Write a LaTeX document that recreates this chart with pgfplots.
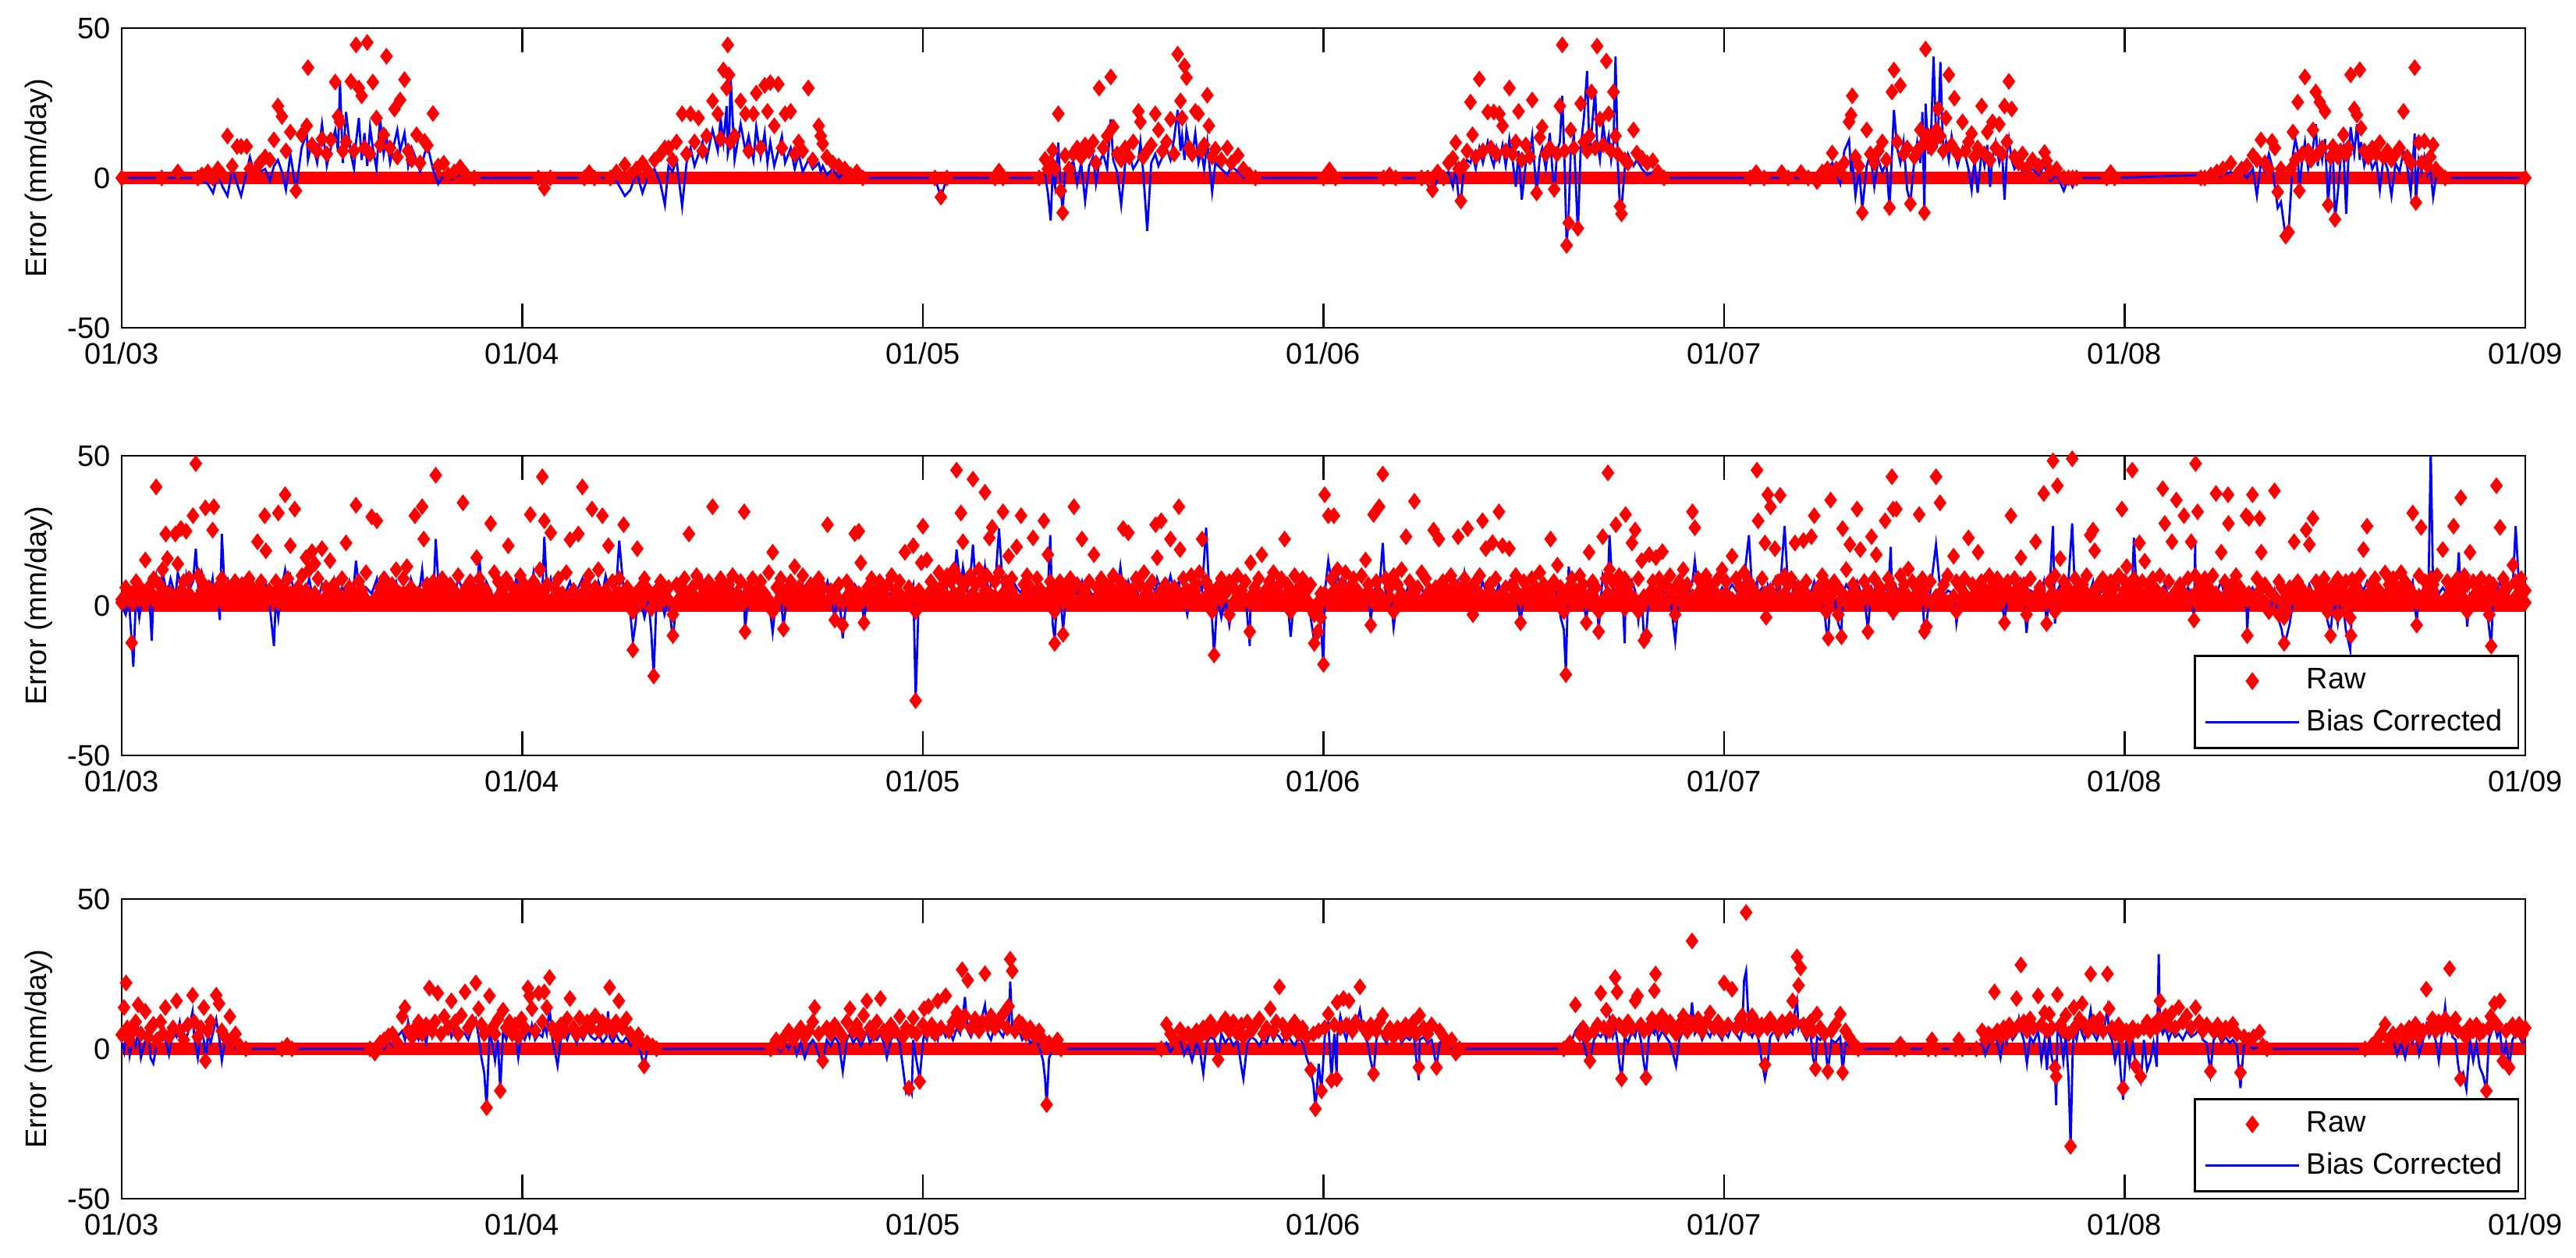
\documentclass[border=0pt]{standalone}
\usepackage{fontspec}
\setmainfont{Liberation Sans}
\usepackage{pgfplots}
\usepackage{pgfplotstable}
\pgfplotsset{compat=1.18}

% x = position in tick intervals (0 = 01/03 ... 6 = 01/09), r = raw error, b = bias corrected error
% s = further raw values in the dense low band of the middle panel
\pgfplotstableread{
x r b
0.000 0 0
0.100 0 0
0.140 2 0
0.190 0 0
0.200 1 -1
0.215 2 -2
0.228 0 -5
0.240 3 1
0.252 1 -3
0.264 14 -6
0.276 4 3
0.288 10.5 -2
0.298 10.5 -6
0.312 10.5 2
0.320 3 7
0.332 2 1
0.345 5 2
0.358 7 3
0.370 6 -1
0.380 12.7 4
0.390 24 6
0.400 20.5 2
0.410 9 -4
0.421 15.3 8
0.435 -4.3 -4
0.449 14.4 10
0.462 17.4 15
0.465 36.8 6
0.475 11 12
0.488 9 5
0.500 13 18
0.512 8 4
0.522 12.7 10
0.533 32 16
0.540 20.5 9
0.545 18.7 32
0.552 9 5
0.560 12 22
0.572 32.2 8
0.580 9 3
0.585 44.4 12
0.592 30 20
0.599 27.4 6
0.606 10 15
0.613 45.2 4
0.620 8 17
0.627 32 10
0.636 20 3
0.645 11 20
0.654 14.4 8
0.661 40.6 14
0.670 10 5
0.681 23 12
0.688 7 16
0.695 26 9
0.706 32.8 15
0.715 9 4
0.724 6 10
0.736 14.4 6
0.745 5 2
0.756 12.2 8
0.763 10.9 11
0.777 21.5 3
0.790 4 -2
0.804 4.9 1
0.815 1 -1
0.830 2 0
0.845 3.6 1
0.860 1 0
0.880 0 0
1.040 0 0
1.055 -3.4 -3
1.070 0 0
1.155 0 0
1.167 1.8 0
1.180 0 0
1.220 0 0
1.235 2 -1
1.256 4.4 -6
1.270 1 -4
1.285 3 2
1.300 5 -5
1.315 2 1
1.330 6 3
1.345 8 -2
1.356 10 -9
1.365 10 4
1.375 6 2
1.385 12 6
1.399 21.4 -9.5
1.410 8 5
1.420 21.4 10
1.430 12 4
1.440 20 8
1.450 9 12
1.460 14 6
1.475 25.7 16
1.488 21.4 9
1.495 13 20
1.502 36 12
1.510 30 24
1.513 44.4 8
1.516 34.4 10
1.520 12 34
1.530 14 6
1.545 25.7 18
1.557 21.4 9
1.565 9 14
1.577 21.4 6
1.584 28.3 17
1.595 10 7
1.605 30.9 15
1.612 22.2 5
1.619 31.8 12
1.629 17.4 4
1.639 31.3 9
1.648 10 14
1.656 21.4 5
1.670 22.2 10
1.680 8 3
1.690 12 8
1.700 9 2
1.714 30 6
1.725 6 3
1.740 17.4 5
1.745 14 2
1.750 11.4 4
1.760 7 1
1.775 5 3
1.790 4 0
1.805 3 2
1.820 1 0
1.835 2 0
1.850 0 0
2.030 0 0
2.045 -6.4 -6.4
2.060 0 0
2.180 0 0
2.190 2.3 1
2.200 0 0
2.290 0 0
2.305 6.2 1
2.312 3 -5
2.319 5 -14.2
2.324 9.2 2
2.330 3 -3
2.338 21.4 11.8
2.344 -4.3 -4
2.349 -11.6 -11
2.355 7.5 2
2.365 3 1
2.375 8 6
2.385 10 -2
2.395 7 5
2.405 11 -7.7
2.415 9 4
2.425 12 7
2.432 5 -2
2.440 30 5
2.450 10 8
2.460 14 3
2.469 33.7 19.6
2.475 17 6
2.485 8 2
2.495 6 -9
2.505 10 5
2.515 7 8
2.525 12 3
2.538 22.2 6
2.543 18.7 12
2.550 7 2
2.560 9 -17.7
2.570 11 5
2.580 21.4 8
2.588 16 4
2.598 9 7
2.608 12 10
2.618 19.6 6
2.627 8 13
2.636 41.3 22.7
2.643 25.7 9
2.647 20 14
2.653 37.4 6
2.658 33.5 16
2.665 10 11
2.672 8 7
2.680 22.2 15
2.688 21.4 5
2.695 9 9
2.702 11 3
2.710 27.6 12
2.714 17.4 6
2.722 7 -4.7
2.730 9.6 5
2.745 6 3
2.760 10 1
2.770 5 4
2.787 7.5 2
2.800 3 0
2.815 1 0
2.830 0 0
3.000 0 0
3.015 2.7 0
3.030 0 0
3.150 0 0
3.165 1 0
3.180 0 0
3.245 0 0
3.260 0 -2
3.272 -4 -5.6
3.285 2 0
3.300 0 1
3.312 5 2
3.323 6.6 -3
3.330 11.8 4
3.337 3 -6.4
3.343 -7.7 -7.7
3.350 4 3
3.358 9 6
3.367 25.3 5
3.372 14.4 8
3.380 7 3
3.389 33 10
3.398 9 5
3.410 22 12
3.418 10 7
3.425 22 4
3.432 8 10
3.439 21.4 6
3.447 17.4 11
3.455 9 4
3.464 30 13
3.472 8 6
3.480 12 -3
3.487 22.2 9
3.495 6 -7.3
3.505 11 5
3.515 7 8
3.521 26 14
3.532 -5 -5
3.540 13.5 7
3.546 17 10
3.555 8 3
3.565 10 15
3.576 -3.8 -6.4
3.583 8 9
3.590 24 12
3.596 44.4 27.4
3.602 9 4
3.607 -22.5 -22.5
3.612 -15 -12
3.617 16 8
3.625 10 14
3.635 -16.8 -18.6
3.642 24.8 10
3.650 12 20
3.658 9 35.7
3.664 14 8
3.669 28.7 15
3.678 10 29.6
3.683 44 12
3.690 19.6 6
3.698 11 18
3.706 39 10
3.712 21.4 14
3.718 9 6
3.724 28.7 12
3.729 14 40.5
3.735 8 4
3.740 -9.5 -9.5
3.744 -12 -10
3.752 6 3
3.760 5 8
3.774 16 4
3.782 8.3 6
3.795 6.6 3
3.808 5 1
3.822 5.7 2
3.835 2 0
3.850 0 0
4.065 0 0
4.080 1.8 0
4.100 0 0
4.144 1.8 0
4.160 0 0
4.192 1.8 0
4.210 0 0
4.232 -1.2 0
4.245 2 1
4.258 3 3
4.270 8.3 5
4.280 3 1
4.290 2 -2
4.300 5 9
4.312 18.7 12.7
4.317 21 2
4.320 27.4 6
4.328 7 -6
4.337 4 3
4.345 -11.6 -10.5
4.356 16 4
4.365 8 8
4.375 5 -3
4.385 9 6
4.395 12 2
4.405 6 5
4.413 -9.9 -9.9
4.419 28.7 8
4.424 36 22.7
4.432 12 10
4.440 30.9 5
4.448 8 12
4.457 10 -4
4.465 -8.6 -8.2
4.475 7 6
4.482 9 12
4.490 16 5
4.495 11 22
4.500 -11.6 -11.6
4.503 43 24.8
4.510 14 8
4.517 10 16
4.523 12 40.5
4.530 16 10
4.534 23 14
4.540 14 38.7
4.547 9 8
4.554 20 12
4.561 34.4 6
4.568 11 14
4.575 26.6 9
4.583 8 4
4.595 18.7 10
4.603 9 7
4.610 12 3
4.618 14.8 -4
4.625 7 6
4.633 10 -5
4.643 24 9
4.650 8 4
4.657 15.3 11
4.664 6 -3
4.670 18.7 7
4.678 10 12
4.687 17.9 5
4.694 8 9
4.700 24 -7.3
4.706 12 8
4.711 32.2 13
4.718 23 6
4.725 7 3
4.735 5 5
4.745 8 2
4.755 3 1
4.770 6 3
4.785 4 1
4.800 8.5 4
4.805 5.7 2
4.815 2 -1
4.830 3 1
4.848 0 -4.3
4.860 0 0
4.870 0 -3
4.880 0 0
4.955 0 0
4.965 1.8 1
4.975 0 0
5.190 0 1
5.200 0 0
5.215 1 2
5.230 2 0
5.245 3 1
5.265 4.9 2
5.280 1 -1
5.292 3 2
5.305 4 0
5.320 7.5 3
5.330 6 -6
5.340 12.7 5
5.350 5 2
5.360 3 8
5.368 12.2 4
5.375 10 -3
5.382 -4.7 -10
5.390 3 -8
5.402 -19.4 -20
5.409 -18.1 -18
5.415 3 -5
5.420 15.3 8
5.426 6 13
5.432 25.3 9
5.436 -4.3 -4.3
5.443 8 6
5.450 33.7 12
5.458 9 3
5.465 6 7
5.470 16 10
5.477 28.7 17.9
5.482 8 4
5.487 25.3 11
5.493 10 6
5.500 22.2 13
5.508 -9 -9
5.514 7 5
5.520 10.5 8
5.525 -13.8 -13.8
5.532 7 -5
5.539 9 6
5.546 14.4 10
5.553 8 -12
5.558 10 5
5.564 34.4 17
5.573 23 8
5.580 21 17.9
5.587 36.1 6
5.590 16.6 12
5.598 9 4
5.608 7 9
5.618 10 3
5.628 8 6
5.637 11.8 -4
5.646 7 7
5.656 9 3
5.666 6 -6
5.676 8 5
5.686 10 2
5.696 22.2 9
5.705 7 4
5.714 5 -5
5.724 36.8 14.8
5.727 -8.2 -8.2
5.734 11.8 6
5.741 5 2
5.748 12.2 7
5.756 4 1
5.763 7 3
5.770 11 -6.4
5.777 3 0
5.790 1 0
5.800 0 0
6.000 0 0
}\ptop

\pgfplotstableread{
x r b s
0.000 2 0 1
0.010 6 -3 3
0.018 3 2 2
0.025 -12.4 -12 4
0.029 4 -20.4 1
0.036 8 5 3
0.044 2 -4 5
0.052 5 3 2
0.059 15.2 4 1
0.067 6 8 3
0.075 3 -11.7 4
0.080 9 6 2
0.086 39.6 10 1
0.094 7 3 3
0.102 12 11 5
0.110 23.9 6 2
0.114 15.7 4 4
0.122 4 9 1
0.134 23.9 3 3
0.140 13.9 11 2
0.148 25.7 7 5
0.155 8 2 1
0.161 24.8 10 3
0.168 9 5 4
0.178 30 8 2
0.185 47.4 19 1
0.192 10 4 3
0.200 8 11 5
0.209 32.6 6 2
0.218 6 2 4
0.227 25.2 9 1
0.230 33 4 3
0.237 5 7 2
0.245 7 -4.8 4
0.250 9 23.9 1
0.258 4 3 3
0.266 6 8 5
0.275 3 2 2
0.283 8 5 1
0.292 5 1 3
0.300 7 4 4
0.310 4 6 2
0.318 9 2 1
0.326 6 3 3
0.339 21.3 5 5
0.348 8 9 2
0.357 30 4 4
0.360 18.3 7 1
0.368 5 2 3
0.380 4 -13.5 2
0.385 8 3 4
0.391 30.9 -4 1
0.398 6 5 3
0.408 37 12 5
0.415 9 7 2
0.421 20 10 4
0.432 32.2 4 1
0.440 6 8 3
0.450 10 3 2
0.460 16 5 5
0.468 12 9 1
0.475 18 4 3
0.482 14 6 4
0.490 9 2 2
0.500 19 7 1
0.510 6 3 3
0.520 15 5 5
0.530 7 9 2
0.540 4 3 4
0.550 9 6 1
0.560 20.9 4 3
0.568 6 8 2
0.576 5 2 4
0.585 33.5 15 1
0.592 8 5 3
0.600 4 3 5
0.610 11 6 2
0.624 29.6 4 1
0.637 28.3 9 3
0.645 6 3 4
0.655 9 7 2
0.665 5 2 1
0.675 7 5 3
0.685 12 8 5
0.694 4 3 2
0.703 9 6 4
0.712 13 2 1
0.722 6 9 3
0.732 30 5 2
0.741 4 3 4
0.750 33 12 1
0.754 22.2 6 3
0.762 7 4 5
0.770 5 7 2
0.778 8 3 1
0.784 43.5 22.2 3
0.792 6 4 4
0.800 9 8 2
0.810 5 2 1
0.820 7 6 3
0.830 4 3 5
0.840 10 9 2
0.852 34.3 5 4
0.860 6 3 1
0.870 8 7 3
0.880 5 2 2
0.886 16 4 4
0.893 9 16 1
0.900 6 3 3
0.910 4 8 5
0.921 27.4 5 2
0.930 11 2 1
0.940 8 6 3
0.950 5 3 4
0.960 9 4 2
0.965 20 8 1
0.975 6 3 3
0.985 4 9 5
0.995 10 5 2
1.005 7 2 4
1.013 5 6 1
1.020 30.4 4 3
1.028 8 11 2
1.036 6 3 4
1.044 12 7 1
1.050 43 5 3
1.055 28.3 23 5
1.062 7 4 2
1.071 24.3 9 1
1.080 6 3 3
1.090 9 6 4
1.100 4 2 2
1.110 11 5 1
1.119 22 8 3
1.128 5 3 5
1.140 23.9 6 2
1.150 39.6 9 4
1.158 7 4 1
1.166 10 7 3
1.174 32.2 5 2
1.182 6 2 4
1.190 12 8 1
1.200 30 4 3
1.208 5 10 5
1.215 20 6 2
1.225 8 3 1
1.235 4 7 3
1.242 9 21.7 4
1.253 27 5 2
1.262 6 2 1
1.270 3 -3 3
1.276 -14.8 -12 -2
1.283 4 -5.7 2
1.287 19 3 4
1.295 6 2 1
1.305 9 -4 3
1.315 5 2 5
1.322 3 -9 -1
1.328 -23.5 -23.5 2
1.335 5 2 4
1.345 8 4 1
1.355 4 -3 3
1.365 6 2 2
1.376 -10 -11.7 -3
1.385 7 3 1
1.395 5 6 3
1.405 9 2 5
1.416 23.9 5 2
1.425 6 3 4
1.435 10 8 1
1.447 7 10 3
1.455 5 3 2
1.465 8 5 4
1.475 33 4 1
1.485 6 7 3
1.495 9 2 5
1.505 5 4 2
1.515 7 3 1
1.525 10 6 3
1.535 4 2 4
1.545 8 5 2
1.554 31.3 3 1
1.556 -8.7 -8.3 3
1.565 6 4 5
1.575 9 2 2
1.585 5 6 4
1.595 8 3 1
1.605 4 5 3
1.615 11 2 2
1.625 17.8 -9 -2
1.635 6 4 1
1.645 9 3 3
1.652 -7.8 -7 5
1.660 5 2 2
1.670 8 6 4
1.680 13 4 1
1.690 6 3 3
1.700 10 7 2
1.710 5 2 4
1.720 7 5 1
1.730 4 3 3
1.740 9 6 5
1.750 6 2 2
1.762 27 8 1
1.770 5 3 3
1.780 -4.8 -4 4
1.790 7 5 2
1.800 -6.5 -10.9 1
1.810 8 4 3
1.820 6 3 5
1.830 24 7 2
1.840 24.8 5 4
1.845 14.3 3 1
1.853 -5.7 -5 3
1.862 6 4 2
1.872 9 2 4
1.882 5 5 1
1.892 8 3 3
1.902 4 6 5
1.912 7 2 2
1.922 10 5 1
1.932 5 3 3
1.942 8 6 4
1.955 17.8 4 2
1.965 6 3 1
1.976 20 7 3
1.982 -31.7 -31.7 -2
1.990 5 4 2
1.996 14.3 6 4
2.000 26.5 5 1
2.010 15.2 3 3
2.020 8 9 5
2.030 6 4 2
2.040 11 7 4
2.050 7 10 1
2.060 10 6 3
2.070 8 12 2
2.078 12 8 4
2.084 45.2 18.7 1
2.090 9 11 3
2.095 30.9 7 5
2.100 21.3 13 2
2.110 8 5 1
2.118 10 9 3
2.125 42.2 20.4 4
2.132 7 6 2
2.140 12 10 1
2.148 9 5 3
2.155 37.8 13 5
2.160 10 8 2
2.166 22.6 4 4
2.173 26.1 9 1
2.180 8 6 3
2.190 11 25.7 2
2.200 31.3 5 4
2.207 8 8 1
2.214 16.5 4 3
2.222 9 9 5
2.234 19.6 6 2
2.245 30 4 1
2.252 7 8 3
2.260 10 3 4
2.268 6 6 2
2.275 22.6 4 1
2.285 9 7 3
2.295 5 3 5
2.302 28.3 6 2
2.312 17 5 4
2.318 8 23.5 1
2.324 6 -6 3
2.329 -12.6 -11.7 -2
2.335 5 3 2
2.342 8 5 4
2.350 -9.6 -8 1
2.358 6 4 3
2.368 9 2 5
2.377 33 6 2
2.385 7 3 1
2.397 22.2 8 3
2.405 5 2 4
2.415 8 5 2
2.427 17 3 1
2.435 6 7 3
2.445 9 2 5
2.455 4 5 2
2.465 7 3 4
2.475 10 6 1
2.485 5 4 3
2.493 8 13 2
2.500 25.7 5 4
2.507 6 3 1
2.513 24.3 8 3
2.522 5 4 5
2.532 9 6 2
2.542 7 2 1
2.552 11 5 3
2.562 6 3 4
2.572 8 7 2
2.581 27 4 1
2.585 16 9 3
2.595 28.3 5 5
2.605 7 3 2
2.618 22.2 10 4
2.628 6 4 1
2.639 33 8 3
2.642 18.7 5 2
2.650 9 3 4
2.660 5 -3 1
2.670 10 6 3
2.680 7 4 5
2.690 11 8 2
2.697 22.2 5 1
2.707 8 26 3
2.715 6 4 4
2.722 4 -5 -2
2.727 -16.5 -16.5 1
2.735 6 3 3
2.745 9 -4 2
2.755 5 2 4
2.765 8 -6.5 -3
2.775 6 3 1
2.785 10 5 3
2.795 5 2 5
2.805 8 4 2
2.816 -8.7 -13.5 1
2.818 14.3 4 3
2.828 6 2 4
2.838 9 5 2
2.846 17 3 1
2.855 5 6 3
2.865 8 2 5
2.875 11 7 2
2.885 6 3 4
2.895 9 5 1
2.903 22.2 4 3
2.910 7 2 2
2.918 5 -10.4 -2
2.928 10 4 1
2.938 6 3 3
2.948 9 6 5
2.958 5 2 2
2.968 7 -4 -1
2.977 -12.6 -12 -3
2.986 -8.7 -8 1
2.993 4 -6 -4
3.000 -19.6 -20.4 2
3.003 37 4 4
3.012 30 15 1
3.020 9 8 3
3.026 30 6 5
3.035 12 10 2
3.045 7 4 4
3.055 11 8 1
3.065 6 3 3
3.075 9 7 2
3.085 5 2 4
3.095 10 5 1
3.105 15.2 3 3
3.112 7 6 5
3.118 -6.5 -5 2
3.125 30.4 4 1
3.132 8 7 3
3.139 33 5 4
3.148 43.9 20.9 2
3.155 9 4 1
3.165 6 7 3
3.175 10 -7.4 -2
3.185 7 3 2
3.195 12 6 4
3.206 23 4 1
3.215 8 8 3
3.227 34.8 5 5
3.235 6 3 2
3.245 11 6 1
3.255 9 2 3
3.265 5 5 4
3.275 25.2 3 2
3.280 6 7 1
3.288 22.2 4 3
3.298 8 6 5
3.308 5 2 2
3.318 10 5 4
3.326 7 3 1
3.336 23 8 3
3.345 6 4 2
3.352 9 11 4
3.360 25.7 5 1
3.368 6 2 3
3.373 -3 -3 -1
3.380 8 6 2
3.390 10 4 4
3.397 28.3 8 1
3.405 19 5 3
3.415 7 3 5
3.422 21 6 2
3.430 9 4 1
3.438 31.3 7 3
3.447 20 3 4
3.455 6 5 2
3.464 19 8 1
3.472 7 3 3
3.480 10 6 5
3.492 -5.7 -5.7 2
3.500 8 4 4
3.510 5 2 1
3.520 9 6 3
3.530 6 3 2
3.540 11 5 4
3.550 7 2 1
3.560 5 4 3
3.567 22.2 6 5
3.575 8 3 2
3.584 13.5 5 1
3.592 6 -4 3
3.600 4 -8 -2
3.605 -23 -22 2
3.612 6 13 4
3.620 9 5 1
3.630 5 3 3
3.640 10 7 2
3.648 7 4 4
3.656 -5.7 -5.7 1
3.663 17.8 6 3
3.672 8 3 5
3.680 6 5 2
3.687 -8.7 -8 -2
3.697 23 10 1
3.705 9 6 3
3.710 44.3 8 4
3.714 12 23.5 2
3.722 8 5 1
3.730 27 9 3
3.738 10 4 5
3.745 6 7 2
3.752 9 -12.6 -1
3.754 30.4 5 4
3.762 7 3 1
3.770 20.9 8 3
3.778 25.2 5 2
3.786 9 -5 -2
3.794 15 4 1
3.800 -11.7 -11 3
3.806 -10 -9 2
3.813 17 5 4
3.822 8 7 1
3.830 16 4 3
3.838 9 6 5
3.846 18 3 2
3.855 7 5 1
3.865 10 3 3
3.878 6 -11.7 -3
3.888 8 4 2
3.898 12 6 4
3.908 7 3 1
3.921 31.3 8 3
3.927 26 15 2
3.935 9 5 4
3.945 6 3 1
3.955 10 6 3
3.965 7 4 5
3.975 5 8 2
3.985 9 3 1
3.995 12 6 3
4.005 8 4 4
4.020 16.5 7 2
4.030 9 5 1
4.040 6 3 3
4.050 11 9 5
4.062 8 23.5 2
4.070 6 5 4
4.082 45.2 8 1
4.085 28.3 4 3
4.095 9 6 2
4.102 20.9 4 4
4.105 -3.9 -3 1
4.109 37 7 3
4.116 33 5 5
4.127 19 9 2
4.134 8 4 1
4.140 36.8 6 3
4.151 10 26.5 4
4.160 7 5 2
4.168 9 3 1
4.177 20.9 8 3
4.185 6 4 5
4.198 21.7 7 2
4.205 8 3 4
4.218 23 5 1
4.225 30 8 3
4.235 6 3 2
4.245 10 6 4
4.255 7 -8 -2
4.260 -10.9 -10.5 1
4.266 35.2 5 3
4.275 8 3 5
4.285 6 -6 -3
4.293 -10.4 -9 2
4.296 25.7 4 4
4.305 12 7 1
4.314 20.4 5 3
4.322 7 3 2
4.332 32.2 8 4
4.340 18.7 5 1
4.350 8 3 3
4.359 -8.7 -8 5
4.368 23 6 2
4.375 9 4 1
4.380 17 8 3
4.390 6 3 4
4.402 28.3 6 2
4.410 9 4 1
4.416 7 19.6 3
4.419 43 5 5
4.422 32.2 -4.8 -2
4.430 32.2 6 2
4.440 10 3 4
4.450 7 5 1
4.460 12.2 4 3
4.470 8 2 2
4.480 6 6 4
4.487 30.4 4 1
4.495 9 3 3
4.500 -8.7 -8 5
4.505 -7 -6 2
4.515 8 5 1
4.529 43 20.4 3
4.539 34.3 6 4
4.548 7 3 2
4.558 10 5 1
4.573 16.5 4 3
4.580 8 -6 -2
4.590 6 3 2
4.600 9 5 4
4.610 22.6 4 1
4.620 7 2 3
4.634 17.8 6 5
4.642 8 3 2
4.652 5 5 1
4.662 10 2 3
4.672 7 6 4
4.682 9 3 2
4.690 6 4 1
4.700 -5.7 -5 3
4.708 8 3 5
4.716 30 6 2
4.725 9 4 4
4.733 6 2 1
4.741 16 8 3
4.748 7 3 2
4.755 4 -9.1 -3
4.765 9 5 1
4.778 21.3 4 3
4.788 6 3 5
4.798 37.4 8 2
4.805 -6 -6 1
4.812 8 4 3
4.821 48.3 26.5 4
4.826 10 -6 -2
4.832 40 5 1
4.839 15.7 7 3
4.848 8 3 5
4.858 6 5 2
4.869 49 27.4 4
4.876 9 4 1
4.885 5 2 3
4.895 7 6 2
4.905 10 3 4
4.914 23.5 5 1
4.921 25.2 8 3
4.925 18.3 4 5
4.935 7 3 2
4.945 9 6 1
4.955 5 2 3
4.965 8 5 4
4.975 6 3 2
4.985 10 7 1
4.993 32.2 4 3
5.000 8 6 5
5.005 13 3 2
5.012 7 5 4
5.019 45.2 8 1
5.023 9 22.6 3
5.030 6 4 2
5.037 20.9 7 4
5.044 8 3 1
5.050 14.8 5 3
5.060 7 2 5
5.070 9 6 2
5.080 5 3 1
5.088 10 5 3
5.095 39 4 4
5.100 27.4 7 2
5.110 8 3 1
5.118 21.3 5 3
5.129 35.2 4 5
5.138 7 8 2
5.148 30 3 4
5.158 9 6 1
5.166 21.3 4 3
5.173 -4.8 -4 2
5.176 10 20.9 4
5.177 47.4 5 1
5.182 31.3 8 3
5.190 7 3 5
5.200 9 6 2
5.210 6 2 1
5.220 10 5 3
5.228 37.4 4 4
5.241 17.8 8 2
5.250 8 3 1
5.258 37 6 3
5.259 27.4 4 5
5.268 7 2 2
5.278 10 6 4
5.288 6 3 1
5.303 30 5 3
5.306 -10 -9 2
5.310 29.1 4 4
5.319 37 6 1
5.330 9 3 3
5.337 29.1 7 5
5.341 17.8 4 2
5.350 7 2 1
5.360 5 -3 -2
5.374 38.3 5 3
5.385 8 -5 -3
5.392 6 -8 1
5.398 -12.6 -13.5 -4
5.405 4 -10 -2
5.412 6 -6 2
5.423 21.3 4 4
5.432 8 2 1
5.440 6 5 3
5.453 25.2 3 2
5.461 20.4 7 4
5.470 29.1 4 1
5.478 8 2 3
5.488 6 5 5
5.498 9 3 2
5.506 5 -5 -2
5.514 -10 -9 1
5.522 7 3 3
5.532 9 -6 -3
5.542 5 4 2
5.552 8 -8 -2
5.563 4 -14.8 -4
5.565 -10 -9 1
5.568 8.7 4 3
5.578 6 3 2
5.588 10 7 4
5.596 18.7 5 1
5.605 26.5 8 3
5.615 7 4 5
5.625 9 6 2
5.635 5 3 1
5.650 10.9 5 3
5.660 7 8 4
5.670 9 4 2
5.680 6 6 1
5.690 11 3 3
5.700 8 5 5
5.710 6 4 2
5.719 30.9 8 4
5.729 -6.5 -6 1
5.735 10 5 3
5.740 26.1 4 2
5.750 8 7 4
5.758 6 3 1
5.764 9 52 3
5.770 7 5 5
5.780 10 3 2
5.794 18.7 6 1
5.805 8 4 3
5.815 6 2 4
5.821 26.5 5 2
5.830 9 8 1
5.834 7 17.8 3
5.839 36 4 5
5.848 10 6 2
5.855 7 -7 -2
5.862 17.8 4 1
5.870 8 3 3
5.880 6 5 4
5.890 9 2 2
5.900 5 4 1
5.910 8 -8 -3
5.915 -13.5 -13.5 2
5.920 7 3 4
5.928 40 5 1
5.937 26.1 8 3
5.945 9 4 5
5.955 6 3 2
5.969 13.5 7 1
5.976 8 26.5 3
5.985 6 5 4
5.990 9 3 2
6.000 5 2 1
}\pmid

\pgfplotstableread{
x r b
0.000 4.7 2
0.006 13.8 -1
0.011 22 5
0.014 7 9
0.020 3 -2
0.028 6 4
0.035 9 1
0.041 14.7 6
0.048 5 -3
0.059 12.5 3
0.066 4 7
0.072 7 -3
0.079 8.2 -4.9
0.088 3 2
0.097 9 5
0.103 5 8
0.109 13.8 3
0.118 4 -2
0.128 7 6
0.137 16 4
0.145 6 9
0.155 3 2
0.165 8 5
0.177 17.9 12.5
0.181 9 4
0.190 4 -3
0.198 7 6
0.205 13.8 3
0.209 -4 -6.2
0.215 6 5
0.222 9 2
0.236 17.9 9.9
0.243 15.1 4
0.250 6 -4
0.258 4 3
0.270 10.8 2
0.278 3 1
0.284 5 0
0.295 1 0
0.310 0 0
0.400 0 0
0.413 1.2 0
0.425 0 0
0.620 0 0
0.632 -1.4 -1
0.645 2 2
0.655 3 0
0.666 4.3 3
0.676 5 1
0.688 2 4
0.700 10.8 6
0.707 13.8 3
0.715 6 9
0.725 4 2
0.733 7 5
0.741 9 3
0.750 5 6
0.760 8 2
0.768 20.3 8
0.775 6 4
0.782 9 7
0.789 18.6 5
0.797 5 3
0.805 10.8 6
0.815 7 9
0.823 16 4
0.832 9 7
0.840 5 3
0.848 11.2 6
0.857 19 5
0.865 7 3
0.875 9 7
0.884 22 9.9
0.891 13.4 4
0.898 8 -3
0.905 5 -8
0.911 -19.6 -19.6
0.918 17.7 5
0.925 7 2
0.932 5 -4
0.939 9.9 3
0.945 -14 -14
0.952 12.9 6
0.960 7 3
0.968 9 8
0.975 5 4
0.982 8 6
0.990 4 -3
0.998 10 5
1.006 7 3
1.014 20.3 6
1.018 17.7 4
1.024 13.4 8
1.032 6 3
1.041 18.6 5
1.050 9 4
1.055 19 8
1.061 13.8 5
1.068 23.8 14
1.075 7 3
1.083 5 -2
1.088 4 -5.7
1.096 8 3
1.105 6 5
1.112 10 3
1.119 16.8 6
1.128 7 4
1.136 5 2
1.143 10.3 5
1.152 6 3
1.162 9 6
1.172 7 4
1.182 11 3
1.192 6 5
1.200 9 2
1.210 7 4
1.214 8 12.5
1.218 20.5 4
1.226 6 2
1.234 9 5
1.241 16 3
1.250 7 2
1.260 10 4
1.270 5 1
1.280 3 2
1.290 4.7 1
1.297 2 -2
1.304 -5.7 -6.6
1.312 2 0
1.325 1 0
1.335 0 0
1.620 0 0
1.634 3 1
1.645 2 -1
1.655 4 2
1.665 6 0
1.675 3 3
1.685 5 -2
1.695 7 2
1.705 4 -3
1.715 6 1
1.725 9 3
1.730 13.8 2
1.740 5 -2
1.750 -4 -4.9
1.760 7 3
1.770 5 1
1.780 8 4
1.790 6 2
1.800 4 -7.5
1.810 9 3
1.818 13.4 5
1.826 6 2
1.835 8 4
1.845 5 1
1.852 11.2 3
1.860 16 6
1.868 7 2
1.877 5 4
1.885 9 3
1.894 16.8 5
1.902 6 2
1.910 4 -3
1.920 8 3
1.930 6 5
1.942 10.8 2
1.950 4 -6
1.958 7 -14.4
1.965 -13.1 -12
1.972 6 -14.8
1.976 10.3 3
1.984 5 -4
1.992 -10.9 -10
2.000 8 2
2.003 13.4 5
2.010 6 3
2.014 14.2 7
2.022 8 4
2.030 5 6
2.037 16 3
2.045 7 8
2.057 17.7 4
2.065 6 6
2.075 9 3
2.085 12 7
2.093 8 5
2.098 26.4 9
2.105 11 17.3
2.112 22.9 6
2.120 7 4
2.130 10 8
2.140 6 5
2.148 9 11
2.155 25.1 14.7
2.162 8 5
2.170 11 3
2.180 7 8
2.190 9 6
2.200 11.6 4
2.210 7 9
2.214 14.2 5
2.218 29.9 22.5
2.223 26 8
2.230 6 4
2.240 9 6
2.248 8.2 3
2.258 5 5
2.268 7 2
2.280 4 3
2.290 6 1
2.300 3 -4
2.305 1 -10
2.309 -18.6 -18.8
2.315 2 -3
2.325 1 0
2.336 3 1
2.345 0 0
2.595 0 0
2.608 8.2 2
2.618 5 -1
2.628 3 1
2.642 6.4 3
2.652 4 -2
2.662 5 1
2.672 3 -4
2.683 6 2
2.692 4 -1
2.700 7 -8.3
2.708 5 2
2.718 9 4
2.728 6 3
2.737 -3.6 -3
2.745 8 5
2.755 10 2
2.765 6 4
2.775 9 1
2.785 5 3
2.795 8 -6
2.800 4 -10
2.810 9 2
2.820 6 4
2.830 8 3
2.840 10 1
2.850 5 4
2.858 7 2
2.867 13.4 6
2.875 6 3
2.882 9 5
2.890 20.7 4
2.898 8 2
2.908 5 6
2.918 7 3
2.928 9 1
2.938 5 4
2.948 7 2
2.958 4 -3
2.968 -7 -7
2.975 5 -12
2.980 -20 -20
2.988 6 -5
2.995 -14 -14
3.003 7 4
3.012 11.6 9
3.020 -10.5 -10
3.027 8 5
3.033 -10 -9
3.034 15.5 4
3.042 7 11
3.050 16.8 6
3.057 8 3
3.064 16 9
3.072 6 4
3.080 9 7
3.091 20.7 13
3.100 7 5
3.110 5 2
3.118 8 -4
3.125 -8.3 -8.3
3.132 6 3
3.140 9 7
3.148 11.2 4
3.157 5 2
3.166 6.9 5
3.175 4 3
3.185 7 6
3.195 5 2
3.205 8 4
3.215 6 3
3.225 9 5
3.232 5 -4
3.238 -6.2 -10.5
3.240 11.2 3
3.250 7 4
3.260 5 2
3.270 8 3
3.282 -6.2 -6
3.290 6 2
3.300 4 3
3.310 2 1
3.320 3 0
3.330 -1.4 0
3.340 0 0
3.600 0 0
3.615 2 1
3.629 14.7 6
3.640 5 8
3.648 7 3
3.656 4 -2
3.665 -4 -4
3.675 6 3
3.684 8 5
3.692 18.6 4
3.700 7 6
3.706 12.9 3
3.714 6 10
3.722 9 4
3.728 23.8 7
3.733 19 3
3.738 8 -4
3.744 -10 -10
3.752 6 4
3.760 9 2
3.770 7 6
3.778 16 4
3.784 17.7 8
3.792 8 3
3.800 6 -5
3.805 -9.6 -9
3.812 7 4
3.820 10 6
3.826 19.4 5
3.829 25 9
3.836 8 3
3.845 11 6
3.855 7 4
3.865 9 2
3.875 6 -3
3.880 5 -5.7
3.888 8 3
3.898 11 6
3.908 6 4
3.915 9 8
3.920 36 15.5
3.927 8 5
3.935 10 7
3.945 6 3
3.955 9 6
3.965 12 4
3.975 7 8
3.985 9 5
3.995 6 3
4.000 22 6
4.010 8 4
4.020 19.9 8
4.030 7 5
4.040 10 3
4.045 11 6
4.050 8 23
4.055 45.5 26
4.062 7 6
4.070 11 4
4.078 9 7
4.086 6 3
4.094 8 -4
4.102 -5.3 -10
4.108 7 -6
4.115 10 4
4.125 8 6
4.135 6 3
4.145 9 8
4.155 7 4
4.165 10 6
4.171 16 5
4.176 9 12
4.182 30.7 16
4.186 21.2 7
4.191 27 9
4.198 8 5
4.206 6 3
4.215 9 6
4.222 6 -3
4.228 -6.6 -6.6
4.232 11.6 4
4.240 7 3
4.250 5 5
4.259 -7.5 -7.5
4.268 6 3
4.278 8 2
4.290 11.6 4
4.296 -7.9 -7.9
4.303 6 2
4.312 4 1
4.322 2 0
4.335 0 0
4.430 0 0
4.440 1.6 0
4.450 0 0
4.510 0 0
4.519 3 0
4.528 0 0
4.578 0 0
4.586 3 0
4.595 0 0
4.630 0 0
4.644 6 2
4.652 3 -2
4.660 5 1
4.668 4 3
4.675 19 5
4.682 6 2
4.690 4 -3
4.698 7 4
4.705 5 2
4.712 8 6
4.720 6 3
4.730 16.8 5
4.736 8 10
4.741 28 6
4.748 9 3
4.756 6 -5
4.764 10 4
4.772 7 2
4.784 17.7 6
4.792 8 -4
4.800 12 3
4.806 6 -7
4.812 11.6 5
4.818 7 -3
4.826 -6.2 -8
4.829 -9.2 -18.8
4.832 18.1 6
4.840 8 4
4.847 6 -4
4.853 11.2 5
4.860 5 -10
4.865 -32.5 -32.5
4.870 6 -2
4.873 13.8 6
4.880 8 3
4.887 10 8
4.894 15.1 5
4.900 8 3
4.908 6 7
4.915 25 12.9
4.922 9 5
4.930 7 3
4.938 10 6
4.946 6 4
4.957 25 13.4
4.961 13.4 5
4.968 7 3
4.976 5 -4
4.985 8 2
4.990 4 -8
4.996 -13.1 -17
5.004 6 2
5.012 4 -5
5.020 7 3
5.027 -5.7 -5.7
5.033 6 -8
5.040 -9.2 -10.9
5.048 7 3
5.056 9 -7
5.064 6 -4
5.072 8 2
5.080 7 -6
5.085 10 31.6
5.088 16 8
5.095 9 5
5.102 11 7
5.110 8 3
5.118 12 6
5.126 7 4
5.135 13.8 5
5.145 9 3
5.155 11 6
5.166 7 4
5.177 13.8 5
5.186 9 7
5.195 6 3
5.205 8 2
5.214 -7.5 -8
5.222 6 3
5.232 8 5
5.242 5 2
5.252 7 4
5.262 6 2
5.270 8.2 3
5.280 5 1
5.289 -7.9 -13.1
5.298 4 2
5.310 3 1
5.322 4 0
5.337 5.6 1
5.345 1 0
5.355 0 0
5.600 0 0
5.617 1.2 1
5.630 3 2
5.640 5 3
5.650 8.2 4
5.660 3 1
5.670 5 3
5.680 4 -2
5.690 6 2
5.700 3 -3
5.710 7 4
5.718 5 2
5.726 8.2 5
5.735 4 -2
5.745 6 3
5.753 19.9 8
5.760 7 4
5.768 10 6
5.776 6 3
5.784 9 -4
5.792 7 5
5.800 10 14.2
5.806 8 6
5.811 26.8 9
5.818 7 4
5.826 10 3
5.832 6 -5
5.838 -10 -10
5.845 5 -8
5.853 4 -13.5
5.862 7.7 3
5.870 6 -4
5.878 8 2
5.886 5 -6
5.895 6 -9
5.903 -14 -14
5.909 7 3
5.914 10.8 5
5.923 15.1 8
5.930 8 4
5.937 16 6
5.944 -4 -4
5.952 6 2
5.960 -6.2 -6
5.968 8 3
5.976 6 5
5.985 8.2 4
5.993 5 2
6.000 7 3
}\pbot

\pgfplotsset{
  errpanel/.style={
    scale only axis, width=770.25pt, height=96pt,
    xmin=0, xmax=6, ymin=-50, ymax=50,
    xtick={0,1,2,3,4,5,6},
    xticklabels={01/03,01/04,01/05,01/06,01/07,01/08,01/09},
    ytick={-50,0,50}, yticklabels={-50,0,50},
    tick align=inside, tick pos=both, major tick length=7.7pt,
    axis line style={line width=0.6pt},
    every tick/.style={black, line width=0.6pt},
    tick label style={font=\fontsize{9.5}{11}\selectfont},
    xticklabel style={yshift=-1.2pt},
    ylabel={Error (mm/day)},
    every axis y label/.style={at={(axis description cs:-0.0344,0.5)}, rotate=90, anchor=center, font=\fontsize{9.5}{11}\selectfont},
    legend style={at={(axis description cs:0.9975,0.022)}, anchor=south east, draw=black, line width=0.6pt, fill=white,
      font=\fontsize{9.5}{11}\selectfont, inner xsep=3pt, inner ysep=2pt, row sep=1pt,
      nodes={inner sep=2pt}},
    legend cell align=left,
  },
  zeroband/.style={red, line width=3.8pt, forget plot},
  rawmarks/.style={only marks, mark=diamond*, mark size=2.4pt, red, mark options={draw=red, fill=red},
    legend image code/.code={\path[draw=none, fill=none] (0pt,-0.1pt) rectangle (30pt,0.1pt);
      \draw[red, fill=red, only marks, mark=diamond*, mark size=2.4pt] plot coordinates {(15pt,0pt)};}},
  bcline/.style={blue, line width=0.7pt, no markers,
    legend image code/.code={\draw[blue, line width=0.8pt] (0pt,0pt) -- (30pt,0pt);}},
}

\begin{document}
\begin{tikzpicture}
\useasboundingbox (-39pt,9pt) rectangle (786.5pt,-393.75pt);

\begin{axis}[errpanel, at={(0pt,0pt)}, anchor=north west]
\addplot[zeroband] coordinates {(0,0) (6,0)};
\addplot[rawmarks] table[x=x, y=r] {\ptop};
\addplot[bcline] table[x=x, y=b] {\ptop};
\end{axis}

\begin{axis}[errpanel, at={(0pt,-137pt)}, anchor=north west]
\addplot[zeroband] coordinates {(0,0) (6,0)};
\addplot[rawmarks, forget plot] table[x=x, y=s] {\pmid};
\addplot[rawmarks] table[x=x, y=r] {\pmid};
\addplot[bcline] table[x=x, y=b] {\pmid};
\legend{Raw, Bias Corrected}
\end{axis}

\begin{axis}[errpanel, at={(0pt,-279pt)}, anchor=north west]
\addplot[zeroband] coordinates {(0,0) (6,0)};
\addplot[rawmarks] table[x=x, y=r] {\pbot};
\addplot[bcline] table[x=x, y=b] {\pbot};
\legend{Raw, Bias Corrected}
\end{axis}
\end{tikzpicture}
\end{document}
